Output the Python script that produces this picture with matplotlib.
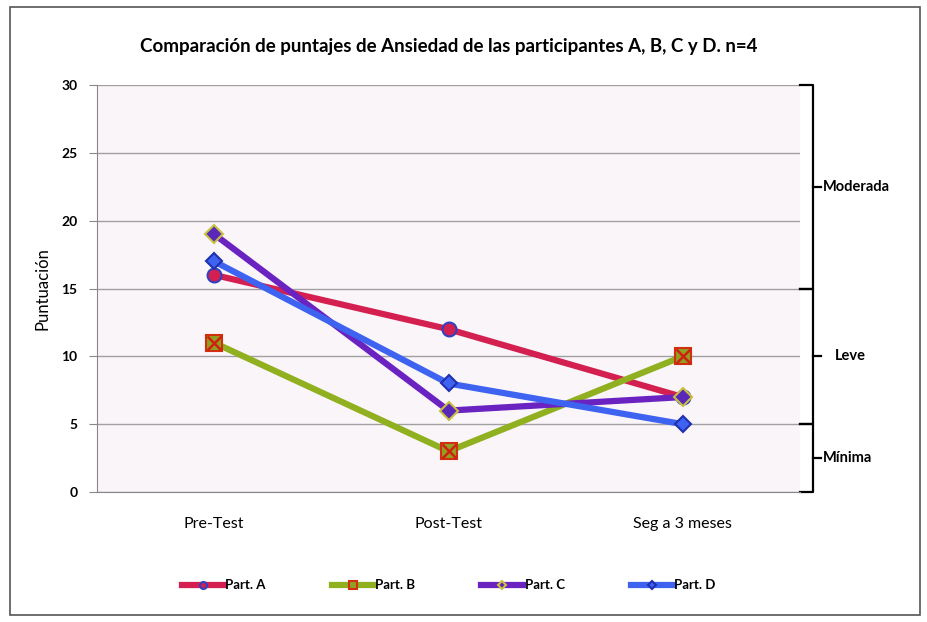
import numpy as np
import matplotlib.pyplot as plt
from matplotlib.patches import Rectangle
import matplotlib.transforms as mtransforms

# datos
momentos = ["Pre-Test", "Post-Test", "Seg a 3 meses"]
part_a = [16, 12, 7]
part_b = [11, 3, 10]
part_c = [19, 6, 7]
part_d = [17, 8, 5]
nombres = ["Part. A", "Part. B", "Part. C", "Part. D"]
y_ticks = [0, 5, 10, 15, 20, 25, 30]

# rangos de ansiedad (desde, hasta, etiqueta)
rangos = [(15, 30, "Moderada"), (5, 15, "Leve"), (0, 5, "Mínima")]

plt.rcParams['font.family'] = ['Lato', 'DejaVu Sans']

fig = plt.figure(figsize=(9.27, 6.22), dpi=100)
fig.patch.set_facecolor('white')
fig.patches.append(Rectangle((10/927, 7/622), 910/927, 608/622, transform=fig.transFigure,
                             fill=False, edgecolor='#555555', linewidth=1.2))

ax = fig.add_axes([97/927, 130/622, 703/927, 407/622])
ax.set_facecolor('#faf5f9')

x = np.arange(len(momentos))
estilos = [
    (part_a, '#d42050', 'o', '#d42050', '#3040c0', 10),
    (part_b, '#90b020', 's', '#90a020', '#d03010', 12),
    (part_c, '#6a22c0', 'D', '#5a28b8', '#c8c040', 9),
    (part_d, '#3d63f0', 'D', '#3d63f0', '#2030b0', 8),
]
for (vals, color, mk, mfc, mec, ms), nombre in zip(estilos, nombres):
    ax.plot(x, vals, color=color, linewidth=4.5, marker=mk, markersize=ms,
            markerfacecolor=mfc, markeredgecolor=mec, markeredgewidth=1.5,
            label=nombre, zorder=3)
# cruz roja en los marcadores de Part. B
ax.plot(x, part_b, linestyle='none', marker='x', markersize=10, color='#d02010',
        markeredgewidth=1.8, zorder=4)

ax.set_xlim(-0.5, 2.5)
ax.set_ylim(0, 30)
ax.set_yticks(y_ticks)
ax.set_yticklabels([str(t) for t in y_ticks], fontweight='bold', fontsize=10)
ax.set_xticks(x)
ax.set_xticklabels(momentos, fontsize=11.5)
ax.tick_params(axis='x', length=0, pad=18)
ax.tick_params(axis='y', length=6, color='#888888', pad=8)
ax.grid(axis='y', color='#a0a0a0', linewidth=1)
ax.set_axisbelow(True)
for s in ['top', 'right']:
    ax.spines[s].set_visible(False)
for s in ['left', 'bottom']:
    ax.spines[s].set_color('#888888')
ax.set_ylabel("Puntuación", fontsize=12, labelpad=8)

ax.set_title("Comparación de puntajes de Ansiedad de las participantes A, B, C y D. n=4",
             fontsize=13.5, fontweight='bold', pad=24)

# llaves de los rangos a la derecha
trans = mtransforms.blended_transform_factory(ax.transAxes, ax.transData)
xb = 1.018
for lo, hi, etiqueta in rangos:
    mid = (lo + hi) / 2
    ax.plot([1.0, xb, xb, 1.0], [hi, hi, lo, lo], color='black', linewidth=1.6,
            transform=trans, clip_on=False)
    ax.plot([xb, xb + 0.012], [mid, mid], color='black', linewidth=1.6,
            transform=trans, clip_on=False)
    desp = 0.02 if etiqueta == "Leve" else 0.003
    ax.text(xb + 0.012 + desp, mid, etiqueta, transform=trans, va='center', ha='left',
            fontsize=10.5, fontweight='bold')

leg = ax.legend(loc='upper center', bbox_to_anchor=(0.5, -0.185), ncol=4, frameon=False,
                handlelength=3.2, handletextpad=0.1, columnspacing=5, fontsize=9.5,
                markerscale=0.5)
for t in leg.get_texts():
    t.set_fontweight('bold')

fig.savefig("out.png", dpi=100)
